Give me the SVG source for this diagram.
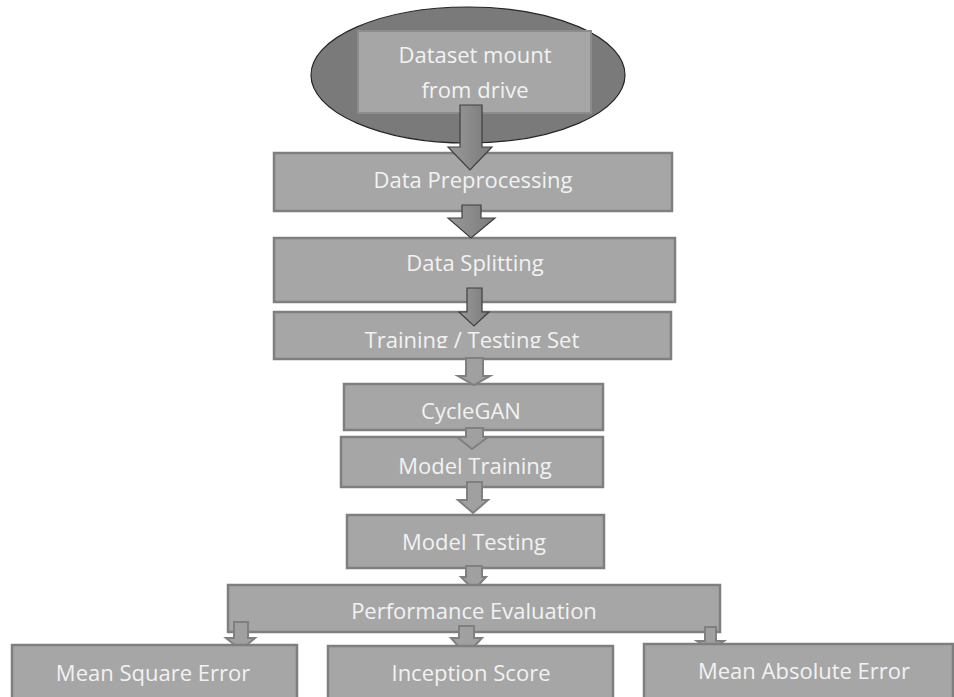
<svg xmlns="http://www.w3.org/2000/svg" width="954" height="697" viewBox="0 0 954 697">
<style>
.box{fill:#a6a6a6;stroke:#7f7f7f;stroke-width:2.5}
.t{font-family:"Open Sans","Noto Sans","Liberation Sans",sans-serif;font-size:22px;fill:#f2f2f2;text-anchor:middle}
.ad{fill:#8c8c8c;stroke:#3f3f3f;stroke-width:1.2;stroke-linejoin:miter}
.al{fill:#a0a0a0;stroke:#808080;stroke-width:2}
</style>
<defs>
<clipPath id="clipT"><rect x="274" y="312" width="398" height="36"/></clipPath>
<linearGradient id="ag" x1="0" y1="0" x2="1" y2="0">
<stop offset="0" stop-color="#9a9a9a"/><stop offset="1" stop-color="#7a7a7a"/>
</linearGradient>
</defs>
<rect width="954" height="697" fill="#ffffff"/>

<g id="n-dataset">
<ellipse cx="468" cy="75" rx="157" ry="68" fill="#7a7a7a" stroke="#262626" stroke-width="1.2"/>
<rect x="358" y="31" width="233" height="82" fill="#a6a6a6" stroke="#8c8c8c" stroke-width="2"/>
<text class="t" x="475" y="63">Dataset mount</text>
<text class="t" x="475" y="98">from drive</text>
</g>

<g id="n-preprocessing">
<rect class="box" x="274" y="153" width="398" height="58"/>
<text class="t" x="473" y="188">Data Preprocessing</text>
</g>

<g id="n-splitting">
<rect class="box" x="274" y="238" width="401" height="64"/>
<text class="t" x="475" y="271">Data Splitting</text>
</g>

<g id="n-trainingset">
<rect class="box" x="274" y="312" width="397" height="47"/>
<text class="t" x="472" y="348" clip-path="url(#clipT)">Training / Testing Set</text>
</g>

<g id="n-cyclegan">
<rect class="box" x="344" y="384" width="259" height="46"/>
<text class="t" x="471" y="419">CycleGAN</text>
</g>

<g id="n-modeltraining">
<rect class="box" x="341" y="437" width="262" height="50"/>
<text class="t" x="475" y="474">Model Training</text>
</g>

<g id="n-modeltesting">
<rect class="box" x="347" y="515" width="257" height="53"/>
<text class="t" x="474" y="550">Model Testing</text>
</g>

<g id="connectors-under">
<path class="al" d="M466,566 L482,566 L482,577 L486,577 L474,590 L461,577 L466,577 Z"/>
</g>

<g id="n-performance">
<rect class="box" x="228" y="585" width="492" height="47"/>
<text class="t" x="474" y="619">Performance Evaluation</text>
</g>

<g id="connectors">
<path class="ad" style="fill:url(#ag)" d="M460,105 L482,105 L482,147 L492,147 L470,170 L448,147 L460,147 Z"/>
<path class="ad" style="fill:url(#ag)" d="M462,205 L481,205 L481,218 L495,218 L471,238 L448,218 L462,218 Z"/>
<path class="ad" style="fill:url(#ag)" d="M467,288 L482,288 L482,312 L489,312 L474,326 L459,312 L467,312 Z"/>
<path class="al" d="M466,358 L483,358 L483,376 L490,376 L474,385 L458,376 L466,376 Z"/>
<path class="al" d="M466,428 L483,428 L483,437 L488,437 L472,449 L457,437 L466,437 Z"/>
<path class="al" d="M467,482 L482,482 L482,500 L488,500 L473,513 L458,500 L467,500 Z"/>
<path class="al" d="M234,622 L248,622 L248,638 L255,638 L241,650 L226,638 L234,638 Z"/>
<path class="al" d="M459,626 L474,626 L474,638 L482,638 L466,655 L451,638 L459,638 Z"/>
<path class="al" d="M705,627 L716,627 L716,641 L724,641 L711,650 L697,641 L705,641 Z"/>
</g>

<g id="n-mse">
<rect class="box" x="12" y="645" width="285" height="60"/>
<text class="t" x="153" y="681">Mean Square Error</text>
</g>

<g id="n-inception">
<rect class="box" x="328" y="646" width="285" height="60"/>
<text class="t" x="471" y="681">Inception Score</text>
</g>

<g id="n-mae">
<rect class="box" x="644" y="644" width="309" height="60"/>
<text class="t" x="804" y="679">Mean Absolute Error</text>
</g>
</svg>
